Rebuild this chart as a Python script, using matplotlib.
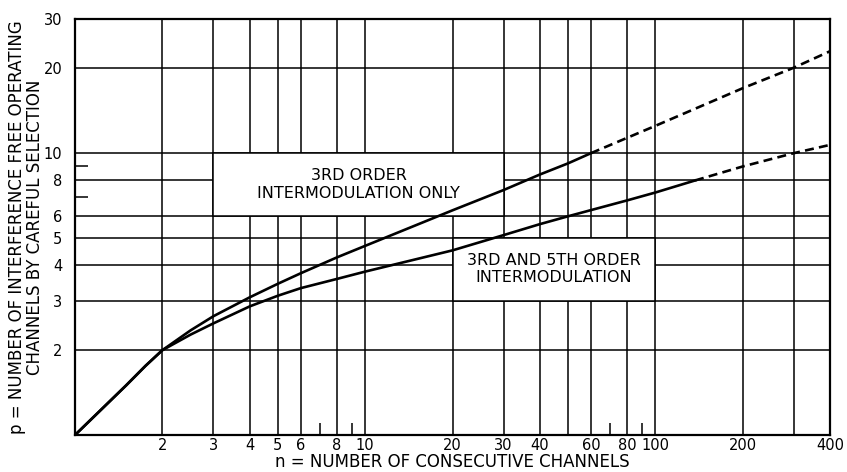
import matplotlib
matplotlib.use("Agg")
import matplotlib.pyplot as plt
from matplotlib.patches import Rectangle
import numpy as np

# Data
# 3rd order intermodulation only (solid part, then dashed extrapolation)
n_3rd = [1, 1.25, 1.5, 1.75, 2, 2.5, 3, 4, 5, 6, 8, 10, 20, 30, 40, 50, 60]
p_3rd = [1, 1.25, 1.5, 1.76, 2, 2.35, 2.64, 3.08, 3.44, 3.75, 4.27, 4.69, 6.27, 7.4, 8.4, 9.2, 10.0]
n_3rd_ext = [60, 100, 200, 300, 400]
p_3rd_ext = [10.0, 12.5, 17.0, 20.1, 23.0]

# 3rd and 5th order intermodulation
n_35 = [1, 1.25, 1.5, 1.75, 2, 2.5, 3, 4, 5, 6, 8, 10, 20, 30, 40, 50, 60, 80, 100, 137]
p_35 = [1, 1.25, 1.5, 1.76, 2, 2.27, 2.49, 2.86, 3.12, 3.32, 3.58, 3.8, 4.52, 5.12, 5.6, 5.97, 6.28, 6.8, 7.25, 8.0]
n_35_ext = [137, 200, 300, 400]
p_35_ext = [8.0, 8.97, 10.0, 10.7]

# Grid and tick values
grid_x = [2, 3, 4, 5, 6, 8, 10, 20, 30, 40, 50, 60, 80, 100, 200, 300]
grid_y = [2, 3, 4, 5, 6, 8, 10, 20]
xtick_vals = [2, 3, 4, 5, 6, 8, 10, 20, 30, 40, 60, 80, 100, 200, 400]
ytick_vals = [2, 3, 4, 5, 6, 8, 10, 20, 30]
x_small = [7, 9, 70, 90]
y_small = [7, 9]

# Label boxes (x0, x1, y0, y1) and their texts
box_3rd = (3, 30, 6, 10)
box_35 = (20, 100, 3, 5)
text_3rd = "3RD ORDER\nINTERMODULATION ONLY"
text_35 = "3RD AND 5TH ORDER\nINTERMODULATION"

fig = plt.figure(figsize=(8.47, 4.72), dpi=100)
ax = fig.add_axes([0.0886, 0.0784, 0.8914, 0.882])
ax.set_xscale("log")
ax.set_yscale("log")
ax.set_xlim(1, 400)
ax.set_ylim(1, 30)

# grid
ax.vlines(grid_x, 1, 30, colors="black", linewidth=1.1, zorder=1)
ax.hlines(grid_y, 1, 400, colors="black", linewidth=1.1, zorder=1)

# white label boxes cut out of the grid
for (x0, x1, y0, y1), txt in [(box_3rd, text_3rd), (box_35, text_35)]:
    ax.add_patch(Rectangle((x0, y0), x1 - x0, y1 - y0, facecolor="white",
                           edgecolor="black", linewidth=1.1, zorder=2))
    ax.text(np.sqrt(x0 * x1), np.sqrt(y0 * y1), txt, ha="center", va="center",
            fontsize=11.5, linespacing=1.2, zorder=3)

# curves
ax.plot(n_3rd, p_3rd, color="black", linewidth=1.9, zorder=4)
ax.plot(n_3rd_ext, p_3rd_ext, color="black", linewidth=1.9, dashes=(3.4, 2.0), zorder=4)
ax.plot(n_35, p_35, color="black", linewidth=1.9, zorder=4)
ax.plot(n_35_ext, p_35_ext, color="black", linewidth=1.9, dashes=(3.4, 2.0), zorder=4)

# ticks
ax.set_xticks(xtick_vals)
ax.set_xticklabels([str(v) for v in xtick_vals])
ax.set_xticks(x_small, minor=True)
ax.set_xticklabels([], minor=True)
ax.set_yticks(ytick_vals)
ax.set_yticklabels([str(v) for v in ytick_vals])
ax.set_yticks(y_small, minor=True)
ax.set_yticklabels([], minor=True)
ax.tick_params(which="major", length=0, labelsize=10.5)
ax.tick_params(axis="x", which="major", pad=2)
ax.tick_params(axis="y", which="major", pad=9)
ax.tick_params(which="minor", direction="in", length=9, width=1.1)

for s in ax.spines.values():
    s.set_linewidth(1.6)

ax.set_xlabel("n = NUMBER OF CONSECUTIVE CHANNELS", fontsize=12, labelpad=0)
ax.set_ylabel("p = NUMBER OF INTERFERENCE FREE OPERATING\nCHANNELS BY CAREFUL SELECTION",
              fontsize=12, labelpad=0, linespacing=0.95)

fig.savefig("out.png", dpi=100)
